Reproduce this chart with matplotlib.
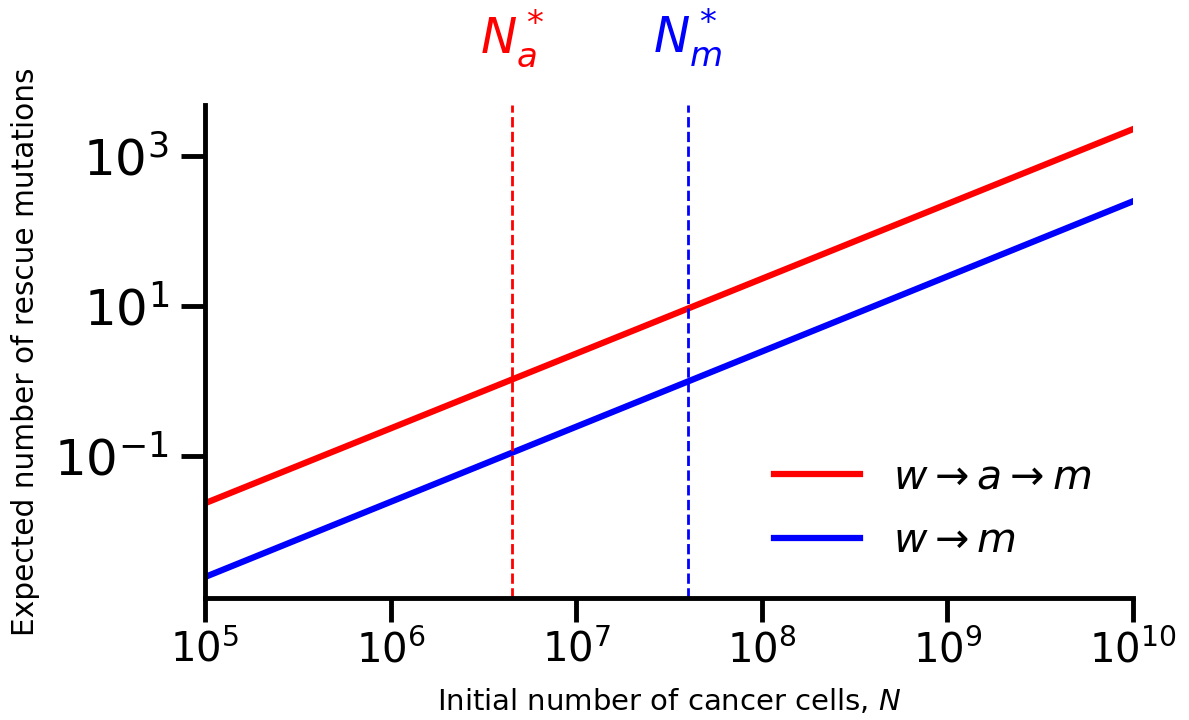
import numpy as np
import matplotlib
matplotlib.use('Agg')
import matplotlib.pyplot as plt

# values (endpoints of straight lines on log-log axes)
N_range = [1e5, 1e10]
rescue_wam = [0.0235, 2290.0]   # w -> a -> m
rescue_wm = [0.00244, 250.0]    # w -> m
N_a_star = 4.5e6
N_m_star = 4.0e7

fig = plt.figure(figsize=(11.89, 7.2), dpi=100)
ax = fig.add_axes([0.1724, 0.1694, 0.7806, 0.6848])

ax.plot(N_range, rescue_wam, color='red', lw=4.5, label=r'$w \rightarrow a \rightarrow m$')
ax.plot(N_range, rescue_wm, color='blue', lw=4.5, label=r'$w \rightarrow m$')

ax.axvline(N_a_star, color='red', ls='--', lw=2)
ax.axvline(N_m_star, color='blue', ls='--', lw=2)

ax.set_xscale('log')
ax.set_yscale('log')
ax.set_xlim(N_range)
ax.set_ylim(1.28e-3, 4.8e3)

ax.set_xticks([1e5, 1e6, 1e7, 1e8, 1e9, 1e10])
ax.set_yticks([1e-1, 1e1, 1e3])
ax.minorticks_off()

for s in ['top', 'right']:
    ax.spines[s].set_visible(False)
for s in ['left', 'bottom']:
    ax.spines[s].set_linewidth(3.5)

ax.tick_params(axis='both', which='major', length=17, width=3.5)
ax.tick_params(axis='x', labelsize=29, pad=6)
ax.tick_params(axis='y', labelsize=36, pad=9)

ax.set_xlabel('Initial number of cancer cells, $N$', fontsize=21)
ax.set_ylabel('Expected number of rescue mutations', fontsize=21.3)
ax.xaxis.set_label_coords(0.5, -0.181)
ax.yaxis.set_label_coords(-0.178, 0.5)

ax.annotate(r'$N_a^*$', xy=(N_a_star, 1.0), xycoords=('data', 'axes fraction'),
            xytext=(0, 26), textcoords='offset points',
            color='red', fontsize=35, ha='center', va='bottom')
ax.annotate(r'$N_m^*$', xy=(N_m_star, 1.0), xycoords=('data', 'axes fraction'),
            xytext=(0, 26), textcoords='offset points',
            color='blue', fontsize=35, ha='center', va='bottom')

ax.legend(loc='lower right', frameon=False, fontsize=29.5, handlelength=2.1,
          labelspacing=0.57, bbox_to_anchor=(0.995, 0.0))

fig.savefig('out.png', dpi=100)
